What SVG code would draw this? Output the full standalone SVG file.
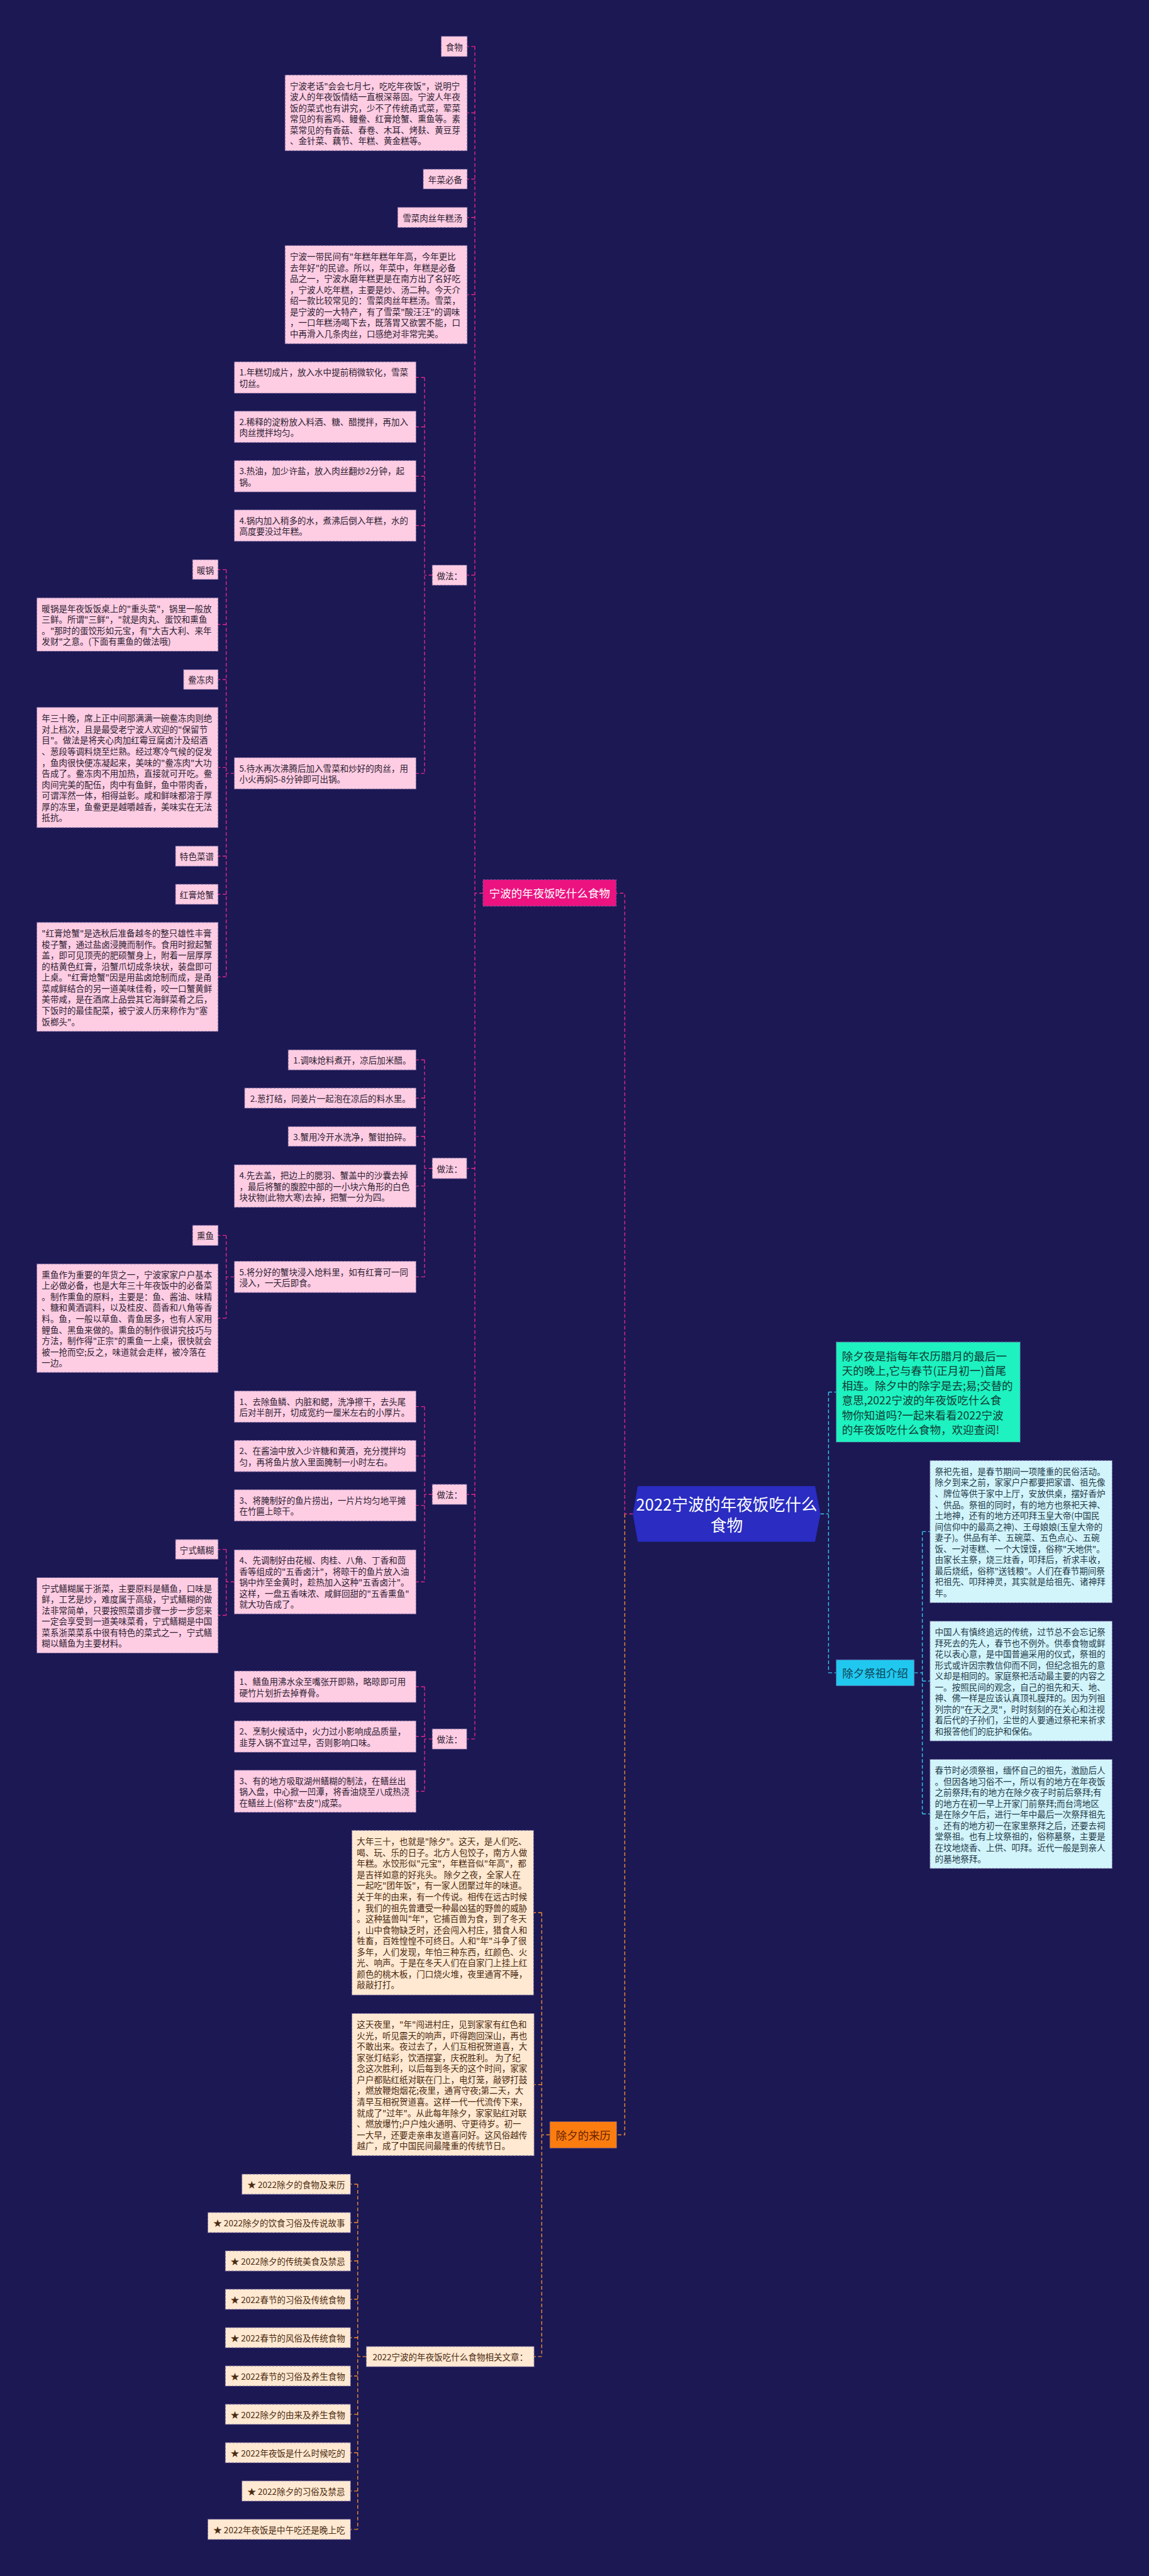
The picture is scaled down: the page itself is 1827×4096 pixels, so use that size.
<svg xmlns="http://www.w3.org/2000/svg" width="1827" height="4096" viewBox="0 0 1827 4096">
<style>
.t{font-family:"Noto Sans CJK SC","Noto Sans",sans-serif;font-size:19px;dominant-baseline:central}
.c{text-anchor:middle}
.pk{fill:#ffcde3;stroke:#6a5a96;stroke-width:1.5;stroke-dasharray:5 3}
.pkt{fill:#2d2233}
.cr{fill:#ffe9d2;stroke:#6a5a96;stroke-width:1.5;stroke-dasharray:5 3}
.crt{fill:#4a2a10}
.cy{fill:#d2f4fb;stroke:#6a5a96;stroke-width:1.5;stroke-dasharray:5 3}
.cyt{fill:#1f3a48}
.cm{fill:none;stroke:#e0258b;stroke-width:2;stroke-dasharray:8 5}
.co{fill:none;stroke:#f28a30;stroke-width:2;stroke-dasharray:8 5}
.cc{fill:none;stroke:#36c6ea;stroke-width:2;stroke-dasharray:8 5}
.big{font-size:24.5px}
</style>
<rect width="1827" height="4096" fill="#1b1853"/>
<g transform="scale(0.71367)">
<g id="connectors">
<path class="cm" d="M1410,3373H1392V1990H1373M1076,1990H1058M1058,103.5V3874.5M1058,103.5H1041M1058,251.5H1041M1058,399H1041M1058,484.5H1041M1058,656.5H1041M1058,1281.5H1040M1058,2603H1040M1058,3329.5H1040M1058,3874.5H1040"/>
<path class="cm" d="M963,1281.5H946M946,841V1723M946,841H927M946,951H927M946,1061H927M946,1171H927M946,1723H927M522,1723H504M504,1269V2176.5M504,1269H486M504,1391.5H486M504,1514H486M504,1710H486M504,1907.5H486M504,1992.5H486M504,2176.5H486"/>
<path class="cm" d="M963,2603H946M946,2361.5V2845M946,2361.5H927M946,2446.5H927M946,2532H927M946,2642.5H927M946,2845H927M522,2845H504M504,2752.5V2937M504,2752.5H486M504,2937H486"/>
<path class="cm" d="M963,3329.5H946M946,3134V3524.5M946,3134H927M946,3244H927M946,3354H927M946,3524.5H927M522,3524.5H504M504,3452V3599M504,3452H486M504,3599H486M963,3874.5H946M946,3758V3991M946,3758H927M946,3869H927M946,3991H927"/>
<path class="co" d="M1392,3373V4756.5H1374M1225,4756.5H1207M1207,4261.5V5250.5M1207,4261.5H1189M1207,4644.5H1190M1207,5250.5H1190M816,5250.5H797M797,4866.5V5635.5M797,4866.5H781M797,4951.9H781M797,5037.4H781M797,5122.8H781M797,5208.3H781M797,5293.7H781M797,5379.1H781M797,5464.6H781M797,5550H781M797,5635.5H781"/>
<path class="cc" d="M1828,3373H1846M1846,3101.5V3727M1846,3101.5H1863M1846,3727H1863M2037,3727H2055M2055,3412.5V4041.5M2055,3412.5H2072M2055,3745.5H2072M2055,4041.5H2072"/>
</g>
<g id="root">
<polygon points="1421,3311 1816,3311 1828,3373 1816,3435 1421,3435 1410,3373" fill="#2a2cc2"/>
<text class="t c" x="1619" y="3350" font-size="36" fill="#ffffff" style="font-size:36px">2022宁波的年夜饭吃什么</text>
<text class="t c" x="1619" y="3396" fill="#ffffff" style="font-size:36px">食物</text>
</g>
<g id="branch-food">
<rect x="1076" y="1960" width="297" height="59" fill="#ec1280" stroke="#6a5a96" stroke-width="1.5" stroke-dasharray="5 3"/>
<text class="t c big" x="1224.5" y="1989.5" fill="#ffffff">宁波的年夜饭吃什么食物</text>
</g>
<g id="n-shiwu"><rect class="pk" x="983" y="81" width="58" height="45"/><text class="t c pkt" x="1012" y="103.5">食物</text></g>
<g id="n-p1"><rect class="pk" x="635" y="167" width="406" height="169"/>
<text class="t pkt" x="646" y="190"><tspan x="646">宁波老话"会会七月七，吃吃年夜饭"，说明宁</tspan><tspan x="646" dy="24.6">波人的年夜饭情结一直根深蒂固。宁波人年夜</tspan><tspan x="646" dy="24.6">饭的菜式也有讲究，少不了传统甬式菜，荤菜</tspan><tspan x="646" dy="24.6">常见的有酱鸡、鳗鲞、红膏炝蟹、熏鱼等。素</tspan><tspan x="646" dy="24.6">菜常见的有香菇、春卷、木耳、烤麸、黄豆芽</tspan><tspan x="646" dy="24.6">、金针菜、藕节、年糕、黄金糕等。</tspan></text></g>
<g id="n-niancai"><rect class="pk" x="943" y="377" width="98" height="44"/><text class="t c pkt" x="992" y="399">年菜必备</text></g>
<g id="n-xuecai"><rect class="pk" x="886" y="462" width="155" height="45"/><text class="t c pkt" x="963.5" y="484.5">雪菜肉丝年糕汤</text></g>
<g id="n-p2"><rect class="pk" x="635" y="547" width="406" height="219"/>
<text class="t pkt" x="646" y="570.4"><tspan x="646">宁波一带民间有"年糕年糕年年高，今年更比</tspan><tspan x="646" dy="24.6">去年好"的民谚。所以，年菜中，年糕是必备</tspan><tspan x="646" dy="24.6">品之一，宁波水磨年糕更是在南方出了名好吃</tspan><tspan x="646" dy="24.6">，宁波人吃年糕，主要是炒、汤二种。今天介</tspan><tspan x="646" dy="24.6">绍一款比较常见的：雪菜肉丝年糕汤。雪菜，</tspan><tspan x="646" dy="24.6">是宁波的一大特产，有了雪菜"酸汪汪"的调味</tspan><tspan x="646" dy="24.6">，一口年糕汤喝下去，既落胃又欲罢不能，口</tspan><tspan x="646" dy="24.6">中再滑入几条肉丝，口感绝对非常完美。</tspan></text></g>
<g id="n-zuofa1"><rect class="pk" x="963" y="1259" width="77" height="45"/><text class="t c pkt" x="1001.5" y="1281.5">做法：</text></g>
<g id="n-s1"><rect class="pk" x="522" y="806" width="405" height="70"/><text class="t pkt" x="533" y="828.7"><tspan x="533">1.年糕切成片，放入水中提前稍微软化，雪菜</tspan><tspan x="533" dy="24.6">切丝。</tspan></text></g>
<g id="n-s2"><rect class="pk" x="522" y="916" width="405" height="70"/><text class="t pkt" x="533" y="938.7"><tspan x="533">2.稀释的淀粉放入料酒、糖、醋搅拌，再加入</tspan><tspan x="533" dy="24.6">肉丝搅拌均匀。</tspan></text></g>
<g id="n-s3"><rect class="pk" x="522" y="1026" width="405" height="70"/><text class="t pkt" x="533" y="1048.7"><tspan x="533">3.热油，加少许盐，放入肉丝翻炒2分钟，起</tspan><tspan x="533" dy="24.6">锅。</tspan></text></g>
<g id="n-s4"><rect class="pk" x="522" y="1136" width="405" height="70"/><text class="t pkt" x="533" y="1158.7"><tspan x="533">4.锅内加入稍多的水，煮沸后倒入年糕，水的</tspan><tspan x="533" dy="24.6">高度要没过年糕。</tspan></text></g>
<g id="n-s5"><rect class="pk" x="522" y="1688" width="405" height="70"/><text class="t pkt" x="533" y="1710.7"><tspan x="533">5.待水再次沸腾后加入雪菜和炒好的肉丝，用</tspan><tspan x="533" dy="24.6">小火再焖5-8分钟即可出锅。</tspan></text></g>
<g id="n-nuanguo"><rect class="pk" x="429" y="1247" width="57" height="44"/><text class="t c pkt" x="457.5" y="1269">暖锅</text></g>
<g id="n-nuanguo-p"><rect class="pk" x="82" y="1332" width="404" height="119"/><text class="t pkt" x="93" y="1354.6"><tspan x="93">暖锅是年夜饭饭桌上的"重头菜"，锅里一般放</tspan><tspan x="93" dy="24.6">三鲜。所谓"三鲜"，"就是肉丸、蛋饺和熏鱼</tspan><tspan x="93" dy="24.6">。"那时的蛋饺形如元宝，有"大吉大利、来年</tspan><tspan x="93" dy="24.6">发财"之意。(下面有熏鱼的做法哦)</tspan></text></g>
<g id="n-xiang"><rect class="pk" x="409" y="1492" width="77" height="44"/><text class="t c pkt" x="447.5" y="1514">鲞冻肉</text></g>
<g id="n-xiang-p"><rect class="pk" x="82" y="1576" width="404" height="268"/><text class="t pkt" x="93" y="1599.3"><tspan x="93">年三十晚，席上正中间那满满一碗鲞冻肉则绝</tspan><tspan x="93" dy="24.6">对上档次，且是最受老宁波人欢迎的"保留节</tspan><tspan x="93" dy="24.6">目"。做法是将夹心肉加红霉豆腐卤汁及绍酒</tspan><tspan x="93" dy="24.6">、葱段等调料烧至烂熟。经过寒冷气候的促发</tspan><tspan x="93" dy="24.6">，鱼肉很快便冻凝起来，美味的"鲞冻肉"大功</tspan><tspan x="93" dy="24.6">告成了。鲞冻肉不用加热，直接就可开吃。鲞</tspan><tspan x="93" dy="24.6">肉间完美的配伍，肉中有鱼鲜，鱼中带肉香，</tspan><tspan x="93" dy="24.6">可谓浑然一体，相得益彰。咸和鲜味都溶于厚</tspan><tspan x="93" dy="24.6">厚的冻里，鱼鲞更是越嚼越香，美味实在无法</tspan><tspan x="93" dy="24.6">抵抗。</tspan></text></g>
<g id="n-tese"><rect class="pk" x="391" y="1885" width="95" height="45"/><text class="t c pkt" x="438.5" y="1907.5">特色菜谱</text></g>
<g id="n-hgqx"><rect class="pk" x="391" y="1970" width="95" height="45"/><text class="t c pkt" x="438.5" y="1992.5">红膏炝蟹</text></g>
<g id="n-hgqx-p"><rect class="pk" x="82" y="2055" width="404" height="243"/><text class="t pkt" x="93" y="2078.1"><tspan x="93">"红膏炝蟹"是选秋后准备越冬的整只雄性丰膏</tspan><tspan x="93" dy="24.6">梭子蟹，通过盐卤浸腌而制作。食用时掀起蟹</tspan><tspan x="93" dy="24.6">盖，即可见顶壳的肥硕蟹身上，附着一层厚厚</tspan><tspan x="93" dy="24.6">的桔黄色红膏，沿蟹爪切成条块状，装盘即可</tspan><tspan x="93" dy="24.6">上桌。"红膏炝蟹"因是用盐卤炝制而成，是甬</tspan><tspan x="93" dy="24.6">菜咸鲜结合的另一道美味佳肴，咬一口蟹黄鲜</tspan><tspan x="93" dy="24.6">美带咸，是在酒席上品尝其它海鲜菜肴之后，</tspan><tspan x="93" dy="24.6">下饭时的最佳配菜，被宁波人历来称作为"塞</tspan><tspan x="93" dy="24.6">饭榔头"。</tspan></text></g>
<g id="n-zuofa2"><rect class="pk" x="963" y="2580" width="77" height="46"/><text class="t c pkt" x="1001.5" y="2603">做法：</text></g>
<g id="n-c1"><rect class="pk" x="642" y="2339" width="285" height="45"/><text class="t c pkt" x="784.5" y="2361.5">1.调味炝料煮开，凉后加米醋。</text></g>
<g id="n-c2"><rect class="pk" x="545" y="2424" width="382" height="45"/><text class="t c pkt" x="736" y="2446.5">2.葱打结，同姜片一起泡在凉后的料水里。</text></g>
<g id="n-c3"><rect class="pk" x="642" y="2510" width="285" height="44"/><text class="t c pkt" x="784.5" y="2532">3.蟹用冷开水洗净，蟹钳拍碎。</text></g>
<g id="n-c4"><rect class="pk" x="522" y="2595" width="405" height="95"/><text class="t pkt" x="533" y="2617.9"><tspan x="533">4.先去盖，把边上的腮羽、蟹盖中的沙囊去掉</tspan><tspan x="533" dy="24.6">，最后将蟹的腹腔中部的一小块六角形的白色</tspan><tspan x="533" dy="24.6">块状物(此物大寒)去掉，把蟹一分为四。</tspan></text></g>
<g id="n-c5"><rect class="pk" x="522" y="2810" width="405" height="70"/><text class="t pkt" x="533" y="2832.7"><tspan x="533">5.将分好的蟹块浸入炝料里，如有红膏可一同</tspan><tspan x="533" dy="24.6">浸入，一天后即食。</tspan></text></g>
<g id="n-xunyu"><rect class="pk" x="429" y="2730" width="57" height="45"/><text class="t c pkt" x="457.5" y="2752.5">熏鱼</text></g>
<g id="n-xunyu-p"><rect class="pk" x="82" y="2816" width="404" height="242"/><text class="t pkt" x="93" y="2838.6"><tspan x="93">熏鱼作为重要的年货之一，宁波家家户户基本</tspan><tspan x="93" dy="24.6">上必做必备，也是大年三十年夜饭中的必备菜</tspan><tspan x="93" dy="24.6">。制作熏鱼的原料，主要是：鱼、酱油、味精</tspan><tspan x="93" dy="24.6">、糖和黄酒调料，以及桂皮、茴香和八角等香</tspan><tspan x="93" dy="24.6">料。鱼，一般以草鱼、青鱼居多，也有人家用</tspan><tspan x="93" dy="24.6">鲤鱼、黑鱼来做的。熏鱼的制作很讲究技巧与</tspan><tspan x="93" dy="24.6">方法，制作得"正宗"的熏鱼一上桌，很快就会</tspan><tspan x="93" dy="24.6">被一抢而空;反之，味道就会走样，被冷落在</tspan><tspan x="93" dy="24.6">一边。</tspan></text></g>
<g id="n-zuofa3"><rect class="pk" x="963" y="3307" width="77" height="45"/><text class="t c pkt" x="1001.5" y="3329.5">做法：</text></g>
<g id="n-f1"><rect class="pk" x="522" y="3099" width="405" height="70"/><text class="t pkt" x="533" y="3121.7"><tspan x="533">1、去除鱼鳞、内脏和鳃，洗净擦干，去头尾</tspan><tspan x="533" dy="24.6">后对半剖开，切成宽约一厘米左右的小厚片。</tspan></text></g>
<g id="n-f2"><rect class="pk" x="522" y="3209" width="405" height="70"/><text class="t pkt" x="533" y="3231.7"><tspan x="533">2、在酱油中放入少许糖和黄酒，充分搅拌均</tspan><tspan x="533" dy="24.6">匀，再将鱼片放入里面腌制一小时左右。</tspan></text></g>
<g id="n-f3"><rect class="pk" x="522" y="3319" width="405" height="70"/><text class="t pkt" x="533" y="3341.7"><tspan x="533">3、将腌制好的鱼片捞出，一片片均匀地平摊</tspan><tspan x="533" dy="24.6">在竹匾上晾干。</tspan></text></g>
<g id="n-f4"><rect class="pk" x="522" y="3453" width="405" height="143"/><text class="t pkt" x="533" y="3475.3"><tspan x="533">4、先调制好由花椒、肉桂、八角、丁香和茴</tspan><tspan x="533" dy="24.6">香等组成的"五香卤汁"，将晾干的鱼片放入油</tspan><tspan x="533" dy="24.6">锅中炸至金黄时，趁热加入这种"五香卤汁"。</tspan><tspan x="533" dy="24.6">这样，一盘五香味浓、咸鲜回甜的"五香熏鱼"</tspan><tspan x="533" dy="24.6">就大功告成了。</tspan></text></g>
<g id="n-shanhu"><rect class="pk" x="391" y="3430" width="95" height="44"/><text class="t c pkt" x="438.5" y="3452">宁式鳝糊</text></g>
<g id="n-shanhu-p"><rect class="pk" x="82" y="3515" width="404" height="168"/><text class="t pkt" x="93" y="3537.5"><tspan x="93">宁式鳝糊属于浙菜，主要原料是鳝鱼，口味是</tspan><tspan x="93" dy="24.6">鲜，工艺是炒，难度属于高级，宁式鳝糊的做</tspan><tspan x="93" dy="24.6">法非常简单，只要按照菜谱步骤一步一步您来</tspan><tspan x="93" dy="24.6">一定会享受到一道美味菜肴，宁式鳝糊是中国</tspan><tspan x="93" dy="24.6">菜系浙菜菜系中很有特色的菜式之一，宁式鳝</tspan><tspan x="93" dy="24.6">糊以鳝鱼为主要材料。</tspan></text></g>
<g id="n-zuofa4"><rect class="pk" x="963" y="3852" width="77" height="45"/><text class="t c pkt" x="1001.5" y="3874.5">做法：</text></g>
<g id="n-e1"><rect class="pk" x="522" y="3723" width="405" height="70"/><text class="t pkt" x="533" y="3745.7"><tspan x="533">1、鳝鱼用沸水汆至嘴张开即熟，略晾即可用</tspan><tspan x="533" dy="24.6">硬竹片划折去掉脊骨。</tspan></text></g>
<g id="n-e2"><rect class="pk" x="522" y="3834" width="405" height="70"/><text class="t pkt" x="533" y="3856.7"><tspan x="533">2、烹制火候适中，火力过小影响成品质量，</tspan><tspan x="533" dy="24.6">韭芽入锅不宜过早，否则影响口味。</tspan></text></g>
<g id="n-e3"><rect class="pk" x="522" y="3944" width="405" height="94"/><text class="t pkt" x="533" y="3966.4"><tspan x="533">3、有的地方吸取湖州鳝糊的制法，在鳝丝出</tspan><tspan x="533" dy="24.6">锅入盘，中心掀一凹潭，将香油烧至八成热浇</tspan><tspan x="533" dy="24.6">在鳝丝上(俗称"去皮")成菜。</tspan></text></g>
<g id="branch-origin"><rect x="1225" y="4727" width="149" height="59" fill="#fb7d0f" stroke="#6a5a96" stroke-width="1.5" stroke-dasharray="5 3"/><text class="t c big" x="1299.5" y="4756.5" fill="#6b2205">除夕的来历</text></g>
<g id="n-op1"><rect class="cr" x="784" y="4078" width="405" height="367"/><text class="t crt" x="795" y="4101.6"><tspan x="795">大年三十，也就是"除夕"。这天，是人们吃、</tspan><tspan x="795" dy="24.6">喝、玩、乐的日子。北方人包饺子，南方人做</tspan><tspan x="795" dy="24.6">年糕。水饺形似"元宝"，年糕音似"年高"，都</tspan><tspan x="795" dy="24.6">是吉祥如意的好兆头。 除夕之夜，全家人在</tspan><tspan x="795" dy="24.6">一起吃"团年饭"，有一家人团聚过年的味道。</tspan><tspan x="795" dy="24.6">关于年的由来，有一个传说。相传在远古时候</tspan><tspan x="795" dy="24.6">，我们的祖先曾遭受一种最凶猛的野兽的威胁</tspan><tspan x="795" dy="24.6">。这种猛兽叫"年"，它捕百兽为食，到了冬天</tspan><tspan x="795" dy="24.6">，山中食物缺乏时，还会闯入村庄，猎食人和</tspan><tspan x="795" dy="24.6">牲畜，百姓惶惶不可终日。人和"年"斗争了很</tspan><tspan x="795" dy="24.6">多年，人们发现，年怕三种东西，红颜色、火</tspan><tspan x="795" dy="24.6">光、响声。于是在冬天人们在自家门上挂上红</tspan><tspan x="795" dy="24.6">颜色的桃木板，门口烧火堆，夜里通宵不睡，</tspan><tspan x="795" dy="24.6">敲敲打打。</tspan></text></g>
<g id="n-op2"><rect class="cr" x="784" y="4486" width="406" height="317"/><text class="t crt" x="795" y="4509.2"><tspan x="795">这天夜里，"年"闯进村庄，见到家家有红色和</tspan><tspan x="795" dy="24.6">火光，听见震天的响声，吓得跑回深山，再也</tspan><tspan x="795" dy="24.6">不敢出来。夜过去了，人们互相祝贺道喜，大</tspan><tspan x="795" dy="24.6">家张灯结彩，饮酒摆宴，庆祝胜利。 为了纪</tspan><tspan x="795" dy="24.6">念这次胜利，以后每到冬天的这个时间，家家</tspan><tspan x="795" dy="24.6">户户都贴红纸对联在门上，电灯笼，敲锣打鼓</tspan><tspan x="795" dy="24.6">，燃放鞭炮烟花;夜里，通宵守夜;第二天，大</tspan><tspan x="795" dy="24.6">清早互相祝贺道喜。这样一代一代流传下来，</tspan><tspan x="795" dy="24.6">就成了"过年"。从此每年除夕，家家贴红对联</tspan><tspan x="795" dy="24.6">、燃放爆竹;户户烛火通明、守更待岁。初一</tspan><tspan x="795" dy="24.6">一大早，还要走亲串友道喜问好。这风俗越传</tspan><tspan x="795" dy="24.6">越广，成了中国民间最隆重的传统节日。</tspan></text></g>
<g id="n-related"><rect class="cr" x="816" y="5228" width="374" height="45"/><text class="t c crt" x="1003" y="5250.5">2022宁波的年夜饭吃什么食物相关文章：</text></g>
<g id="n-a1"><rect class="cr" x="539" y="4844" width="242" height="45"/><text class="t c crt" x="660" y="4866.5">★ 2022除夕的食物及来历</text></g>
<g id="n-a2"><rect class="cr" x="463" y="4929.4" width="318" height="45"/><text class="t c crt" x="622" y="4951.9">★ 2022除夕的饮食习俗及传说故事</text></g>
<g id="n-a3"><rect class="cr" x="502" y="5014.9" width="279" height="45"/><text class="t c crt" x="641.5" y="5037.4">★ 2022除夕的传统美食及禁忌</text></g>
<g id="n-a4"><rect class="cr" x="502" y="5100.3" width="279" height="45"/><text class="t c crt" x="641.5" y="5122.8">★ 2022春节的习俗及传统食物</text></g>
<g id="n-a5"><rect class="cr" x="502" y="5185.8" width="279" height="45"/><text class="t c crt" x="641.5" y="5208.3">★ 2022春节的风俗及传统食物</text></g>
<g id="n-a6"><rect class="cr" x="502" y="5271.2" width="279" height="45"/><text class="t c crt" x="641.5" y="5293.7">★ 2022春节的习俗及养生食物</text></g>
<g id="n-a7"><rect class="cr" x="502" y="5356.6" width="279" height="45"/><text class="t c crt" x="641.5" y="5379.1">★ 2022除夕的由来及养生食物</text></g>
<g id="n-a8"><rect class="cr" x="502" y="5442.1" width="279" height="45"/><text class="t c crt" x="641.5" y="5464.6">★ 2022年夜饭是什么时候吃的</text></g>
<g id="n-a9"><rect class="cr" x="539" y="5527.5" width="242" height="45"/><text class="t c crt" x="660" y="5550">★ 2022除夕的习俗及禁忌</text></g>
<g id="n-a10"><rect class="cr" x="463" y="5613" width="318" height="45"/><text class="t c crt" x="622" y="5635.5">★ 2022年夜饭是中午吃还是晚上吃</text></g>
<g id="n-intro"><rect x="1863" y="2990" width="410" height="223" fill="#1ef2c0" stroke="#6a5a96" stroke-width="1.5" stroke-dasharray="5 3"/><text class="t big" x="1876" y="3019.5" fill="#0e3b33"><tspan x="1876">除夕夜是指每年农历腊月的最后一</tspan><tspan x="1876" dy="32.8">天的晚上,它与春节(正月初一)首尾</tspan><tspan x="1876" dy="32.8">相连。除夕中的除字是去;易;交替的</tspan><tspan x="1876" dy="32.8">意思,2022宁波的年夜饭吃什么食</tspan><tspan x="1876" dy="32.8">物你知道吗?一起来看看2022宁波</tspan><tspan x="1876" dy="32.8">的年夜饭吃什么食物，欢迎查阅!</tspan></text></g>
<g id="branch-jizu"><rect x="1863" y="3698" width="174" height="58" fill="#20c8f0" stroke="#6a5a96" stroke-width="1.5" stroke-dasharray="5 3"/><text class="t c big" x="1950" y="3727" fill="#0f4457">除夕祭祖介绍</text></g>
<g id="n-cp1"><rect class="cy" x="2072" y="3254" width="406" height="317"/><text class="t cyt" x="2083" y="3277.2"><tspan x="2083">祭祀先祖，是春节期间一项隆重的民俗活动。</tspan><tspan x="2083" dy="24.6">除夕到来之前，家家户户都要把家谱、祖先像</tspan><tspan x="2083" dy="24.6">、牌位等供于家中上厅，安放供桌，摆好香炉</tspan><tspan x="2083" dy="24.6">、供品。祭祖的同时，有的地方也祭祀天神、</tspan><tspan x="2083" dy="24.6">土地神，还有的地方还叩拜玉皇大帝(中国民</tspan><tspan x="2083" dy="24.6">间信仰中的最高之神)、王母娘娘(玉皇大帝的</tspan><tspan x="2083" dy="24.6">妻子)。供品有羊、五碗菜、五色点心、五碗</tspan><tspan x="2083" dy="24.6">饭、一对枣糕、一个大馍馍，俗称"天地供"。</tspan><tspan x="2083" dy="24.6">由家长主祭，烧三炷香，叩拜后，祈求丰收，</tspan><tspan x="2083" dy="24.6">最后烧纸，俗称"送钱粮"。人们在春节期间祭</tspan><tspan x="2083" dy="24.6">祀祖先、叩拜神灵，其实就是给祖先、诸神拜</tspan><tspan x="2083" dy="24.6">年。</tspan></text></g>
<g id="n-cp2"><rect class="cy" x="2072" y="3612" width="406" height="267"/><text class="t cyt" x="2083" y="3634.8"><tspan x="2083">中国人有慎终追远的传统，过节总不会忘记祭</tspan><tspan x="2083" dy="24.6">拜死去的先人，春节也不例外。供奉食物或鲜</tspan><tspan x="2083" dy="24.6">花以表心意，是中国普遍采用的仪式，祭祖的</tspan><tspan x="2083" dy="24.6">形式或许因宗教信仰而不同，但纪念祖先的意</tspan><tspan x="2083" dy="24.6">义却是相同的。家庭祭祀活动最主要的内容之</tspan><tspan x="2083" dy="24.6">一。按照民间的观念，自己的祖先和天、地、</tspan><tspan x="2083" dy="24.6">神、佛一样是应该认真顶礼膜拜的。因为列祖</tspan><tspan x="2083" dy="24.6">列宗的"在天之灵"，时时刻刻的在关心和注视</tspan><tspan x="2083" dy="24.6">着后代的子孙们，尘世的人要通过祭祀来祈求</tspan><tspan x="2083" dy="24.6">和报答他们的庇护和保佑。</tspan></text></g>
<g id="n-cp3"><rect class="cy" x="2072" y="3920" width="406" height="243"/><text class="t cyt" x="2083" y="3943.1"><tspan x="2083">春节时必须祭祖，缅怀自己的祖先，激励后人</tspan><tspan x="2083" dy="24.6">。但因各地习俗不一，所以有的地方在年夜饭</tspan><tspan x="2083" dy="24.6">之前祭拜;有的地方在除夕夜子时前后祭拜;有</tspan><tspan x="2083" dy="24.6">的地方在初一早上开家门前祭拜;而台湾地区</tspan><tspan x="2083" dy="24.6">是在除夕午后，进行一年中最后一次祭拜祖先</tspan><tspan x="2083" dy="24.6">。还有的地方初一在家里祭拜之后，还要去祠</tspan><tspan x="2083" dy="24.6">堂祭祖。也有上坟祭祖的，俗称墓祭，主要是</tspan><tspan x="2083" dy="24.6">在坟地烧香、上供、叩拜。近代一般是到亲人</tspan><tspan x="2083" dy="24.6">的墓地祭拜。</tspan></text></g>
</g>
</svg>
